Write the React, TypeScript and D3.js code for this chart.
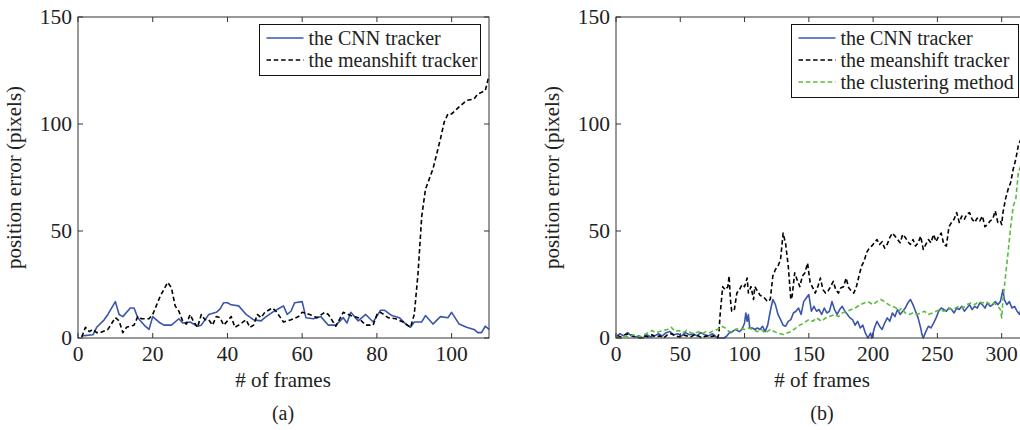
import * as d3 from "d3";

// ---- data: [frame, position error] ----
const cnnA: [number, number][] = [
  [1, 1], [4, 1.5], [5, 5], [7, 8.5], [8, 11], [10, 17], [11, 11], [12, 10], [14, 14], [15, 14],
  [16, 9.5], [18, 5.5], [19, 4], [20, 10], [22, 7], [23, 6], [25, 6], [27, 9], [28, 7], [30, 7.5],
  [32, 5.5], [33, 6], [35, 11], [37, 12], [38, 13.5], [39, 16.5], [40, 16.5], [41, 15.5], [43, 15],
  [45, 11], [47, 8.5], [49, 8], [50, 9.5], [52, 12], [54, 14], [55, 15], [56, 11], [57, 12.5],
  [58, 16.5], [60, 17], [61, 9.5], [63, 9], [65, 10], [67, 6], [69, 6], [71, 9.5], [72, 7],
  [73, 12], [75, 8], [77, 11], [79, 7.5], [81, 13], [82, 13], [84, 10.5], [86, 9.5], [88, 6],
  [89, 5], [90, 7.5], [92, 7.5], [93, 10.5], [95, 6.5], [97, 10], [99, 9.5], [100, 12], [102, 6.5],
  [104, 5], [106, 4], [107, 2.5], [108, 2.5], [109, 5.5], [110, 4],
];

const meanshiftA: [number, number][] = [
  [1, 0.5], [2, 5], [3, 3], [4, 4], [5, 2.5], [6, 2.5], [8, 4], [10, 9.5], [11, 8], [12, 2.5],
  [13, 5], [15, 6], [16, 10], [17, 9], [19, 9], [20, 11], [22, 19.5], [24, 26], [25, 23.5],
  [26, 15], [27, 12.5], [28, 8], [29, 6.5], [30, 11], [31, 7.5], [32, 5], [33, 11], [34, 8.5],
  [35, 8.5], [36, 6], [37, 10], [38, 9.5], [39, 6], [40, 8], [41, 10], [42, 5], [43, 6],
  [45, 8.5], [46, 5], [47, 6], [48, 11], [49, 9.5], [50, 12], [52, 14], [53, 12.5], [55, 7.5],
  [57, 8.5], [59, 10], [60, 12], [62, 11], [64, 9.5], [66, 12], [67, 11], [69, 5.5], [71, 12],
  [73, 10.5], [75, 9.5], [77, 6], [79, 6], [80, 11], [81, 12], [83, 9.5], [85, 9], [87, 7.5],
  [89, 5], [90, 11], [91, 30], [92, 57], [93, 69.5], [95, 79], [97, 93], [98, 100.8], [99, 104.7],
  [100, 104.7], [102, 108], [104, 111], [106, 111.7], [107, 114], [109, 115.6], [110, 122.6],
];

const cnnB: [number, number][] = [
  [1, 1], [3, 2], [6, 1], [9, 2.5], [12, 1], [15, 0.5], [18, 1], [21, 0], [24, 1.5], [27, 0.5],
  [30, 1], [33, 2], [36, 1], [39, 2.5], [42, 3], [45, 1.5], [48, 2], [51, 1], [54, 2.5], [57, 1.5],
  [60, 2], [63, 1], [66, 2.5], [69, 1.5], [72, 1], [75, 2], [78, 0.5], [81, 0], [84, 0], [86, 0.8],
  [88, 2.3], [90, 2.7], [93, 4], [96, 3], [98, 4], [100, 7], [101, 11.7], [102, 7.8], [103, 11],
  [104, 4.7], [106, 4.7], [108, 4], [110, 4.7], [112, 4], [114, 5.5], [116, 3], [118, 6],
  [120, 12.5], [122, 18], [124, 15.6], [126, 11], [128, 8.6], [130, 6], [132, 5.5], [134, 7.8],
  [136, 8.6], [138, 11.7], [140, 12.5], [142, 14], [144, 11], [146, 17], [148, 18.7], [150, 20.3],
  [152, 12.5], [154, 14.8], [156, 12.5], [158, 13.3], [160, 11], [162, 14], [164, 11.7],
  [166, 12.5], [168, 17], [170, 13.3], [172, 11], [174, 13.3], [176, 14.8], [178, 12.5], [180, 11],
  [182, 9.4], [184, 8.6], [186, 6], [188, 7.8], [190, 4.7], [192, 6], [194, 2.3], [196, 0],
  [198, 2.3], [199, 0], [201, 4.7], [203, 7.8], [205, 5.5], [207, 4], [209, 7], [211, 9.4],
  [213, 7.8], [215, 11.7], [217, 10], [219, 13.3], [221, 11], [223, 12.5], [225, 14], [227, 16.4],
  [229, 18], [231, 15.6], [233, 12.5], [235, 9.4], [237, 4.7], [238, 1.6], [239, 0], [241, 3],
  [243, 5.5], [245, 4.7], [247, 7], [249, 9.4], [251, 12.5], [253, 14], [255, 13.3], [257, 12.5],
  [259, 14], [261, 13.3], [263, 11.7], [265, 14], [267, 13.3], [269, 14.8], [271, 12.5], [273, 14],
  [275, 15.6], [277, 13.3], [279, 14.8], [281, 14], [283, 16.4], [285, 15.6], [287, 14],
  [289, 16.4], [291, 14.8], [293, 15.6], [295, 17], [297, 15.6], [299, 17], [301, 22.6], [302, 18],
  [304, 15.6], [306, 17], [308, 14], [310, 14.8], [312, 12.5], [314, 11], [315, 13.3],
];

const meanshiftB: [number, number][] = [
  [1, 1], [4, 0.5], [7, 1.5], [10, 2], [13, 1], [16, 0.5], [19, 0], [22, 1], [25, 0.5], [28, 1.5],
  [31, 0.5], [34, 1], [37, 0], [40, 1.5], [43, 2], [46, 1], [49, 0.5], [52, 1.5], [55, 1],
  [58, 0.5], [61, 1.5], [64, 1], [67, 0], [70, 1], [73, 0.5], [76, 1], [79, 0], [80, 2], [81, 11],
  [83, 24], [85, 22.5], [87, 24], [88, 29], [89, 18], [90, 12.5], [92, 13], [94, 21], [96, 22.5],
  [98, 25], [100, 24], [102, 28], [103, 21], [105, 24], [107, 18], [108, 24], [110, 22], [112, 20],
  [115, 19], [118, 17], [120, 18], [122, 29], [124, 32], [126, 33.6], [128, 36.7], [130, 49],
  [132, 43.8], [134, 33.6], [136, 18], [137, 19.5], [139, 30.5], [141, 27], [143, 24], [145, 29],
  [147, 30.5], [149, 35], [151, 26], [153, 23.5], [155, 21], [157, 24], [159, 28], [161, 22.5],
  [163, 21], [165, 22], [167, 24], [169, 26.5], [171, 22.5], [173, 21], [175, 23.5], [177, 24],
  [179, 28], [181, 23.5], [183, 22], [185, 21], [187, 24], [189, 29], [191, 33.6], [193, 36],
  [195, 40], [197, 42], [199, 43], [201, 44.5], [203, 46], [205, 43.7], [207, 45], [209, 42],
  [211, 43.8], [213, 47], [215, 49], [217, 47.6], [219, 46], [221, 44.5], [223, 48.4], [225, 47],
  [227, 45], [229, 43.7], [231, 46], [233, 43], [235, 44.5], [237, 47.6], [239, 41.4], [241, 43.7],
  [243, 46], [245, 44.5], [247, 48.4], [249, 45], [251, 47.6], [253, 49], [255, 43.7], [257, 43],
  [259, 52], [261, 54], [263, 55.5], [265, 58.6], [267, 54], [269, 57], [271, 55.5], [273, 58],
  [275, 58.6], [277, 55.5], [279, 54], [281, 56], [283, 54.7], [285, 57], [287, 52], [289, 53],
  [291, 54.7], [293, 55.5], [295, 59.4], [297, 54], [299, 54.7], [300, 53], [301, 58.6], [303, 65],
  [305, 69.5], [307, 72.7], [309, 79], [311, 83.6], [313, 90], [315, 93],
];

const clusteringB: [number, number][] = [
  [1, 0.5], [4, 0], [7, 1], [10, 0.5], [13, 1.5], [16, 1], [19, 0.5], [22, 1.5], [25, 2.5],
  [28, 3.5], [31, 2.5], [34, 3], [37, 3.5], [40, 4], [43, 5], [46, 3], [49, 3.5], [52, 2.5],
  [55, 3.5], [58, 2.5], [61, 2], [64, 3], [67, 2], [70, 3], [73, 2.5], [76, 3.5], [79, 4],
  [82, 5.5], [85, 4.7], [88, 3], [90, 3], [93, 4], [96, 4.7], [100, 4], [103, 4.7], [106, 4],
  [110, 3], [113, 4], [116, 2.3], [120, 4], [123, 3], [126, 2.3], [130, 1.6], [133, 2.3], [136, 3],
  [140, 4.7], [143, 6], [146, 7], [150, 8.6], [153, 7.8], [156, 9.4], [160, 7.8], [163, 9.4],
  [166, 10], [170, 11], [173, 10], [176, 11.7], [180, 12.5], [183, 13.3], [186, 14], [190, 15.6],
  [193, 16.4], [196, 17], [200, 15.6], [203, 17], [206, 18], [209, 17], [212, 15.6], [215, 14.8],
  [218, 14], [220, 12.5], [222, 14], [225, 11.7], [228, 11], [231, 11.7], [234, 11], [237, 11.7],
  [240, 12.5], [243, 11], [246, 11.7], [249, 12.5], [252, 13.3], [255, 12.5], [258, 14],
  [261, 13.3], [264, 14], [267, 14.8], [270, 14], [273, 15.6], [276, 16.4], [279, 15.6], [282, 17],
  [285, 16.4], [288, 17], [291, 15.6], [294, 16.4], [297, 14.8], [299, 13.3], [300, 9.4], [301, 18],
  [303, 29], [305, 40], [307, 52], [309, 61.7], [311, 65], [313, 77.5], [315, 80.5],
];

const xTicksA = [0, 20, 40, 60, 80, 100];
const xTicksB = [0, 50, 100, 150, 200, 250, 300];
const yTicks = [0, 50, 100, 150];

const BLUE = "#3a55ac";
const GREEN = "#5cbb3c";
const AXIS = "#333";
const FONT = "'Liberation Serif', 'Times New Roman', serif";

type Series = { data: [number, number][]; color: string; dash?: string; label: string };

function Panel({
  left, right, xMax, xTicks, series, caption, legendBox, labelX,
}: {
  left: number; right: number; xMax: number; xTicks: number[]; series: Series[];
  caption: string; legendBox: { x: number; w: number }; labelX: number;
}) {
  const top = 17;
  const bottom = 338;
  const x = d3.scaleLinear().domain([0, xMax]).range([left, right]);
  const y = d3.scaleLinear().domain([0, 150]).range([bottom, top]);
  const line = d3.line<[number, number]>().x((d) => x(d[0])).y((d) => y(d[1]));
  const clipId = `clip-${caption}`;
  const tick = 5;
  const legendH = 22 * series.length + 7;

  return (
    <g fontFamily={FONT}>
      <defs>
        <clipPath id={clipId}>
          <rect x={left} y={top - 2} width={right - left} height={bottom - top + 2} />
        </clipPath>
      </defs>
      <g clipPath={`url(#${clipId})`}>
        {series.map((s) => (
          <path key={s.label} d={line(s.data) ?? ""} fill="none" stroke={s.color}
            strokeWidth={1.6} strokeDasharray={s.dash} strokeLinejoin="round" />
        ))}
      </g>
      {/* box */}
      <rect x={left} y={top} width={right - left} height={bottom - top} fill="none" stroke={AXIS} strokeWidth={1} />
      {xTicks.map((t) => (
        <g key={"x" + t}>
          <line x1={x(t)} x2={x(t)} y1={bottom} y2={bottom - tick} stroke={AXIS} />
          <line x1={x(t)} x2={x(t)} y1={top} y2={top + tick} stroke={AXIS} />
          <text x={x(t)} y={bottom + 23} textAnchor="middle" fontSize={21.5} fill="#222">{t}</text>
        </g>
      ))}
      {yTicks.map((t) => (
        <g key={"y" + t}>
          <line x1={left} x2={left + tick} y1={y(t)} y2={y(t)} stroke={AXIS} />
          <line x1={right} x2={right - tick} y1={y(t)} y2={y(t)} stroke={AXIS} />
          <text x={left - 6} y={y(t) + 7} textAnchor="end" fontSize={21.5} fill="#222">{t}</text>
        </g>
      ))}
      <text x={labelX} y={387} textAnchor="middle" fontSize={21} fill="#222"># of frames</text>
      <text x={labelX} y={420} textAnchor="middle" fontSize={20} fill="#222">{caption}</text>
      <text transform={`translate(${left - 57},${(top + bottom) / 2}) rotate(-90)`} textAnchor="middle"
        fontSize={21} fill="#222">position error (pixels)</text>
      {/* legend */}
      <rect x={legendBox.x} y={24.5} width={legendBox.w} height={legendH} fill="#fff" stroke="#111" strokeWidth={1} />
      {series.map((s, i) => (
        <g key={"lg" + s.label} transform={`translate(${legendBox.x + 7},${38 + i * 22})`}>
          <line x1={0} x2={37} y1={0} y2={0} stroke={s.color} strokeWidth={1.5} strokeDasharray={s.dash} />
          <text x={42} y={6.5} fontSize={20} fill="#222">{s.label}</text>
        </g>
      ))}
    </g>
  );
}

export default function App() {
  const dash = "4.5,2.8";
  return (
    <svg width={1020} height={430} style={{ position: "absolute", left: 0, top: 0, background: "#fff" }}>
      <rect width={1020} height={430} fill="#fff" />
      <Panel left={78} right={489} xMax={110} xTicks={xTicksA} caption="(a)" labelX={283}
        legendBox={{ x: 259.5, w: 221 }}
        series={[
          { data: cnnA, color: BLUE, label: "the CNN tracker" },
          { data: meanshiftA, color: "#000", dash, label: "the meanshift tracker" },
        ]} />
      <Panel left={616} right={1027} xMax={319.7} xTicks={xTicksB} caption="(b)" labelX={822}
        legendBox={{ x: 791.5, w: 227 }}
        series={[
          { data: cnnB, color: BLUE, label: "the CNN tracker" },
          { data: meanshiftB, color: "#000", dash, label: "the meanshift tracker" },
          { data: clusteringB, color: GREEN, dash, label: "the clustering method" },
        ]} />
    </svg>
  );
}
